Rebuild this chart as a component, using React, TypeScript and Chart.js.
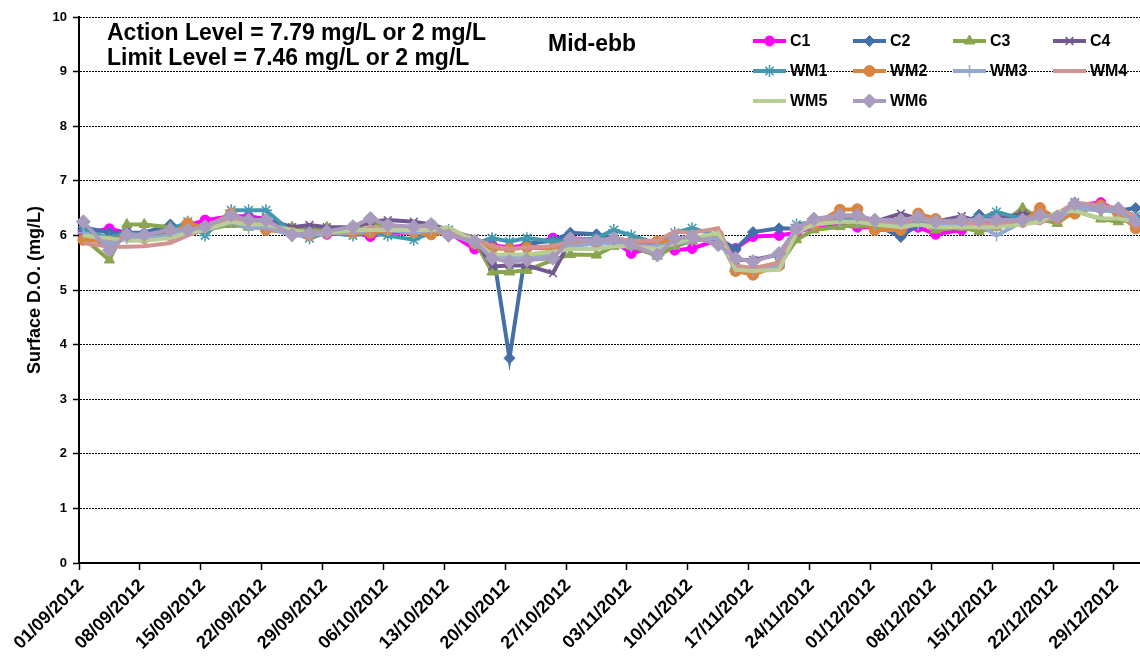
import React, { useEffect, useRef } from 'react';
import { Chart, registerables } from 'chart.js';
import { drawPoint } from 'chart.js/helpers';

Chart.register(...registerables);

// ---------- DATA ----------
const sampleDates = [
  '01/09/2012', '04/09/2012', '06/09/2012', '08/09/2012', '11/09/2012', '13/09/2012', '15/09/2012', '18/09/2012', '20/09/2012', '22/09/2012',
  '25/09/2012', '27/09/2012', '29/09/2012', '02/10/2012', '04/10/2012', '06/10/2012', '09/10/2012', '11/10/2012', '13/10/2012', '16/10/2012',
  '18/10/2012', '20/10/2012', '22/10/2012', '25/10/2012', '27/10/2012', '30/10/2012', '01/11/2012', '03/11/2012', '06/11/2012', '08/11/2012',
  '10/11/2012', '13/11/2012', '15/11/2012', '17/11/2012', '20/11/2012', '22/11/2012', '24/11/2012', '27/11/2012', '29/11/2012', '01/12/2012',
  '04/12/2012', '06/12/2012', '08/12/2012', '11/12/2012', '13/12/2012', '15/12/2012', '18/12/2012', '20/12/2012', '22/12/2012', '24/12/2012',
  '27/12/2012', '29/12/2012', '31/12/2012',
];

const xTickLabels = [
  '01/09/2012', '08/09/2012', '15/09/2012', '22/09/2012', '29/09/2012', '06/10/2012', '13/10/2012', '20/10/2012', '27/10/2012',
  '03/11/2012', '10/11/2012', '17/11/2012', '24/11/2012', '01/12/2012', '08/12/2012', '15/12/2012', '22/12/2012', '29/12/2012',
];
const axisStart = '01/09/2012';
const axisEndExclusive = '01/01/2013';

const yMin = 0;
const yMax = 10;
const yStep = 1;

const seriesNames = ['C1', 'C2', 'C3', 'C4', 'WM1', 'WM2', 'WM3', 'WM4', 'WM5', 'WM6'];

const c1 = [
  6.05, 6.12, 6.05, 6.02, 6.1, 6.18, 6.28, 6.35, 6.35, 6.3,
  6.08, 6.05, 6.02, 6.05, 5.98, 6.05, 6.05, 6.05, 6.05, 5.75,
  5.82, 5.78, 5.82, 5.95, 5.95, 5.92, 5.9, 5.67, 5.8, 5.73,
  5.76, 5.92, 5.76, 5.98, 6.0, 6.05, 6.15, 6.2, 6.15, 6.15,
  6.05, 6.15, 6.02, 6.1, 6.15, 6.35, 6.25, 6.3, 6.35, 6.55,
  6.6, 6.45, 6.3,
];
const c2 = [
  6.15, 6.05, 6.05, 6.05, 6.2, 6.1, 6.15, 6.3, 6.3, 6.3,
  6.1, 6.05, 6.1, 6.1, 6.1, 6.1, 6.1, 6.1, 6.05, 5.9,
  5.8, 3.75, 5.85, 5.9, 6.05, 6.02, 5.95, 5.9, 5.85, 5.9,
  5.95, 5.95, 5.75, 6.06, 6.13, 6.12, 6.25, 6.3, 6.25, 6.2,
  5.97, 6.2, 6.15, 6.2, 6.38, 6.25, 6.25, 6.3, 6.35, 6.6,
  6.5, 6.45, 6.5,
];
const c3 = [
  5.95, 5.55, 6.2, 6.2, 6.15, 6.1, 6.1, 6.2, 6.15, 6.15,
  6.15, 6.1, 6.15, 6.1, 6.25, 6.15, 6.1, 6.1, 6.05, 5.9,
  5.33, 5.33, 5.36, 5.55, 5.65, 5.64, 5.8, 5.8, 5.62, 5.8,
  5.9, 5.95, 5.45, 5.3, 5.45, 5.92, 6.1, 6.16, 6.19, 6.15,
  6.2, 6.25, 6.1, 6.15, 6.07, 6.15, 6.5, 6.3, 6.22, 6.45,
  6.3, 6.25, 6.3,
];
const c4 = [
  6.1, 5.75, 6.0, 6.0, 6.05, 6.15, 6.15, 6.3, 6.3, 6.3,
  6.15, 6.19, 6.15, 6.15, 6.25, 6.28, 6.25, 6.2, 6.1, 5.95,
  5.43, 5.45, 5.45, 5.31, 5.9, 5.9, 5.9, 5.85, 5.8, 5.9,
  5.95, 5.9, 5.55, 5.55, 5.65, 6.1, 6.25, 6.3, 6.3, 6.25,
  6.4, 6.3, 6.25, 6.35, 6.25, 6.3, 6.4, 6.35, 6.35, 6.55,
  6.5, 6.45, 6.3,
];
const wm1 = [
  6.1, 5.95, 6.05, 6.0, 6.1, 6.25, 6.0, 6.46, 6.46, 6.46,
  6.05, 5.95, 6.05, 6.0, 6.05, 6.0, 5.92, 6.05, 6.1, 5.85,
  5.95, 5.89, 5.95, 5.89, 5.9, 5.95, 6.1, 6.0, 5.85, 6.05,
  6.13, 6.0, 5.35, 5.38, 5.5, 6.2, 6.25, 6.3, 6.3, 6.2,
  6.25, 6.25, 6.2, 6.25, 6.3, 6.43, 6.3, 6.35, 6.35, 6.6,
  6.5, 6.4, 6.35,
];
const wm2 = [
  5.92, 5.89, 6.0, 5.95, 6.0, 6.22, 6.15, 6.4, 6.2, 6.1,
  6.05, 6.0, 6.05, 6.05, 6.05, 6.1, 6.05, 6.02, 6.05, 5.85,
  5.76, 5.75, 5.78, 5.75, 5.85, 5.85, 5.9, 5.85, 5.89, 5.9,
  5.95, 6.0, 5.35, 5.28, 5.45, 6.1, 6.2, 6.47, 6.48, 6.1,
  6.1, 6.4, 6.3, 6.2, 6.2, 6.2, 6.25, 6.5, 6.3, 6.4,
  6.55, 6.4, 6.13,
];
const wm3 = [
  6.05, 5.85, 5.95, 5.95, 6.0, 6.1, 6.1, 6.25, 6.13, 6.15,
  6.0, 6.0, 6.05, 6.05, 6.1, 6.1, 6.05, 6.1, 6.05, 5.85,
  5.65, 5.6, 5.62, 5.65, 5.8, 5.85, 5.85, 5.8, 5.8, 5.85,
  5.9, 5.95, 5.4, 5.35, 5.45, 6.05, 6.2, 6.25, 6.25, 6.2,
  6.2, 6.2, 6.2, 6.2, 6.2, 6.0, 6.25, 6.3, 6.3, 6.5,
  6.45, 6.45, 6.25,
];
const wm4 = [
  5.86, 5.79, 5.79, 5.8, 5.86, 6.0, 6.1, 6.3, 6.25, 6.2,
  6.05, 6.05, 6.05, 6.05, 6.15, 6.1, 6.15, 6.15, 6.05, 5.95,
  5.8, 5.75, 5.78, 5.8, 5.9, 5.9, 5.95, 5.9, 5.9, 6.07,
  6.05, 6.13, 5.45, 5.4, 5.5, 6.1, 6.25, 6.35, 6.35, 6.25,
  6.25, 6.3, 6.25, 6.25, 6.2, 6.2, 6.3, 6.22, 6.4, 6.6,
  6.55, 6.5, 6.35,
];
const wm5 = [
  6.0, 5.95, 5.9, 5.9, 5.95, 6.05, 6.1, 6.25, 6.2, 6.2,
  6.1, 6.05, 6.05, 6.1, 6.1, 6.1, 6.1, 6.1, 6.15, 5.9,
  5.65, 5.65, 5.65, 5.7, 5.75, 5.75, 5.8, 5.8, 5.75, 5.85,
  5.95, 6.05, 5.37, 5.35, 5.37, 6.05, 6.2, 6.25, 6.25, 6.2,
  6.15, 6.2, 6.15, 6.15, 6.15, 6.15, 6.2, 6.25, 6.43, 6.45,
  6.31, 6.31, 6.25,
];
const wm6 = [
  6.25, 5.73, 6.01, 6.01, 6.1, 6.1, 6.16, 6.37, 6.28, 6.28,
  6.01, 6.04, 6.07, 6.16, 6.31, 6.19, 6.16, 6.2, 6.0, 5.89,
  5.58, 5.52, 5.55, 5.58, 5.94, 5.9, 5.94, 5.83, 5.64, 5.94,
  5.98, 5.83, 5.58, 5.52, 5.67, 6.13, 6.3, 6.37, 6.37, 6.28,
  6.28, 6.34, 6.25, 6.28, 6.28, 6.28, 6.28, 6.37, 6.34, 6.58,
  6.49, 6.49, 6.25,
];
const seriesValues = [c1, c2, c3, c4, wm1, wm2, wm3, wm4, wm5, wm6];

const annotationLines = ['Action Level = 7.79 mg/L or 2 mg/L', 'Limit Level = 7.46 mg/L or 2 mg/L'];
const tideLabel = 'Mid-ebb';
const yAxisTitle = 'Surface D.O. (mg/L)';

// ---------- STYLES ----------
const seriesColors = ['#FF00FF', '#4470A8', '#89A54E', '#71588F', '#4198AF', '#DB843D', '#93A9CF', '#D19392', '#B9CD96', '#A99BBD'];
const seriesMarkers: (string | null)[] = ['circle', 'rectRot', 'triangle', 'crossRot', 'star', 'circle', 'cross', null, null, 'rectRot'];
const seriesMarkerRadius = [5, 5.5, 6, 5.5, 6, 5.5, 6, 0, 0, 7];
const seriesMarkerBorder = [1, 1, 1, 1.5, 1.5, 1, 1.5, 0, 0, 1];

const FONT = '"Liberation Sans", Arial, sans-serif';

function dayOffset(s: string): number {
  const [d, m, y] = s.split('/').map(Number);
  const [d0, m0, y0] = axisStart.split('/').map(Number);
  return Math.round((Date.UTC(y, m - 1, d) - Date.UTC(y0, m0 - 1, d0)) / 86400000);
}

const overlayPlugin = {
  id: 'overlay',
  afterDraw(chart: any) {
    const ctx = chart.ctx as CanvasRenderingContext2D;
    ctx.save();
    ctx.fillStyle = '#000';
    ctx.textBaseline = 'middle';
    ctx.textAlign = 'left';
    ctx.font = `bold 23px ${FONT}`;
    ctx.fillText(annotationLines[0], 107, 34);
    ctx.fillText(annotationLines[1], 107, 59);
    ctx.fillText(tideLabel, 548, 45);

    // legend
    const colX = [753, 853, 953, 1053];
    const rowY = [41, 71, 101];
    const lineLen = 33;
    seriesNames.forEach((name, i) => {
      const x = colX[i % 4];
      const y = rowY[Math.floor(i / 4)];
      const color = seriesColors[i];
      ctx.strokeStyle = color;
      ctx.lineWidth = 4;
      ctx.beginPath();
      ctx.moveTo(x, y);
      ctx.lineTo(x + lineLen, y);
      ctx.stroke();
      const ps = seriesMarkers[i];
      if (ps) {
        ctx.fillStyle = color;
        ctx.strokeStyle = color;
        ctx.lineWidth = seriesMarkerBorder[i];
        drawPoint(ctx, { pointStyle: ps, radius: seriesMarkerRadius[i], rotation: 0, borderWidth: seriesMarkerBorder[i] } as any, x + lineLen / 2, y);
      }
      ctx.fillStyle = '#000';
      ctx.font = `bold 16px ${FONT}`;
      ctx.fillText(name, x + lineLen + 4, y + 1);
    });
    ctx.restore();
  },
};

export default function App() {
  const canvasRef = useRef<HTMLCanvasElement | null>(null);

  useEffect(() => {
    if (!canvasRef.current) return;
    const datasets = seriesNames.map((name, i) => ({
      label: name,
      data: sampleDates.map((d, j) => ({ x: dayOffset(d), y: seriesValues[i][j] })),
      borderColor: seriesColors[i],
      backgroundColor: seriesColors[i],
      borderWidth: 4,
      pointStyle: seriesMarkers[i] || 'circle',
      pointRadius: seriesMarkerRadius[i],
      pointBackgroundColor: seriesColors[i],
      pointBorderColor: seriesColors[i],
      pointBorderWidth: seriesMarkerBorder[i],
      tension: 0,
      fill: false,
      clip: false,
      order: seriesNames.length - i,
    }));

    const chart = new Chart(canvasRef.current, {
      type: 'line',
      data: { datasets },
      plugins: [overlayPlugin],
      options: {
        animation: false,
        responsive: true,
        maintainAspectRatio: false,
        events: [],
        layout: { autoPadding: false, padding: { top: 17, left: 0, right: 0, bottom: 0 } },
        plugins: { legend: { display: false }, tooltip: { enabled: false } },
        scales: {
          x: {
            type: 'linear',
            min: dayOffset(axisStart) - 0.5,
            max: dayOffset(axisEndExclusive) - 0.5,
            afterBuildTicks: (scale: any) => {
              scale.ticks = xTickLabels.map((l) => ({ value: dayOffset(l) - 0.5 }));
            },
            afterFit: (scale: any) => {
              scale.height = 99;
              scale.paddingRight = 0;
              scale.paddingLeft = 0;
            },
            grid: { drawOnChartArea: false, drawTicks: true, tickLength: 7, tickColor: '#000', tickWidth: 1.5 },
            border: { display: true, color: '#000', width: 2 },
            ticks: {
              autoSkip: false,
              maxRotation: 45,
              minRotation: 45,
              padding: 5,
              labelOffset: 2,
              color: '#000',
              font: { family: FONT, size: 18, weight: 'bold' },
              callback: (_v: any, i: number) => xTickLabels[i],
            },
          },
          y: {
            type: 'linear',
            min: yMin,
            max: yMax,
            afterFit: (scale: any) => {
              scale.width = 79;
            },
            grid: { color: '#000', lineWidth: 1, drawTicks: true, tickLength: 6, tickColor: '#000', tickWidth: 1.5, tickBorderDash: [] },
            border: { display: true, color: '#000', width: 2, dash: [2, 1] },
            ticks: {
              stepSize: yStep,
              padding: 6,
              color: '#000',
              font: { family: FONT, size: 13, weight: 'bold' },
            },
            title: {
              display: true,
              text: yAxisTitle,
              color: '#000',
              font: { family: FONT, size: 18, weight: 'bold' },
              padding: { top: 24, bottom: 0 },
            },
          },
        },
      } as any,
    });
    return () => chart.destroy();
  }, []);

  return (
    <div style={{ position: 'absolute', left: 0, top: 0, width: 1140, height: 662, background: '#fff' }}>
      <canvas ref={canvasRef} />
    </div>
  );
}
